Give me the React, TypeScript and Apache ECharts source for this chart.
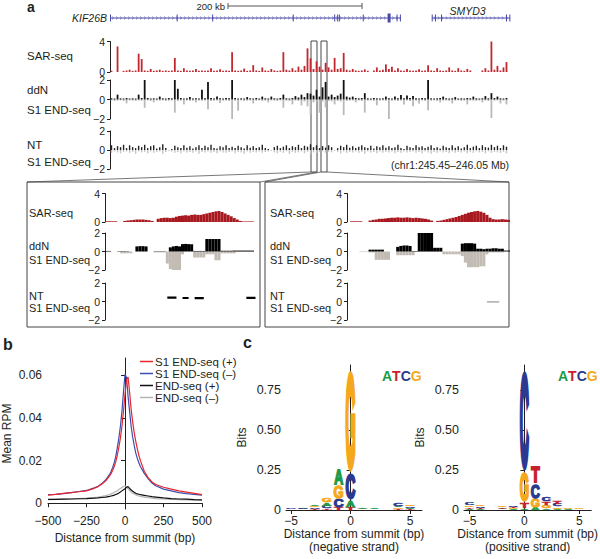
import React, { useEffect, useRef } from "react";
import * as echarts from "echarts";

const FONT = '"Liberation Sans", Arial, Helvetica, sans-serif';
const INK = "#231f20";
const RED_MAIN = "#c1272d";
const RED_DARK = "#a8191f";
const GREY_NEG = "#b9b9b9";
const GREY_NEG_INSET = "#c2bbb4";
const GENE_COLOR = "#4848aa";

// ---------- panel a: overview tracks (132 bins, chr1:245.45–246.05 Mb) ----------
const sarMain = [
  0.15, 0, 3.35, 0, 0.15, 0.2, 0.3, 0.15, 0.2, 2.4,
  1.7, 0.2, 0.15, 0.4, 0.15, 0.2, 0.3, 0.15, 0.2, 0.15,
  0.2, 1.85, 0.2, 0.15, 0.5, 0.2, 0.15, 0.2, 0.4, 0.15,
  0.2, 0.15, 0.2, 0.5, 0.15, 0.2, 0.35, 0.15, 0.2, 0.15,
  2.6, 0.2, 0.15, 0.2, 0.45, 0.15, 0.2, 0.9, 0.2, 0.15,
  0.6, 0.2, 0.15, 0.4, 0.2, 0.15, 0.2, 2.6, 0.3, 0.2,
  0.5, 0.2, 0.7, 0.3, 0.8, 3.1, 1.8, 0.4, 1.4, 0.7,
  0.3, 1.2, 0.6, 0.3, 1.85, 0.4, 0.5, 2.5, 0.3, 0.2,
  0.4, 0.2, 0.15, 0.2, 0.35, 0.15, 0, 0.2, 0.6, 0.2,
  0.3, 1.0, 0.4, 0.7, 0.2, 0.5, 0.2, 0.15, 0.4, 0.2,
  0.15, 0.2, 0.35, 0.15, 0.2, 0.9, 0.2, 0.15, 0.5, 0.2,
  0.15, 0.2, 0.6, 0.2, 0.15, 0.5, 0.2, 0.15, 0.4, 0.2,
  0, 0, 0, 0.2, 0.5, 0.2, 4.0, 0.3, 0.8, 0.2,
  0.6, 1.3,
];
const ddnPosMain = [
  0.12, 0.1, 0.5, 0.12, 0.1, 0.15, 0.1, 0.12, 0.1, 0.5,
  0.15, 2.0, 0.15, 0.1, 0.12, 0.1, 0.3, 0.12, 0.1, 0.15,
  0.12, 2.0, 1.1, 0.15, 0.1, 0.12, 0.25, 0.1, 0.12, 0.1,
  1.0, 0.12, 1.8, 0.15, 0.1, 0.3, 0.12, 0.1, 0.15, 0.12,
  2.0, 0.15, 0.1, 0.12, 0.1, 0.25, 0.12, 0.1, 0.15, 0.1,
  0.3, 0.12, 0.1, 0.3, 0.12, 0.1, 0.15, 0.5, 0.12, 0.1,
  0.15, 0.35, 0.2, 0.5, 0.25, 0.65, 0.6, 0.4, 1.0, 0.3,
  1.25, 1.8, 0.3, 0.5, 0.25, 0.4, 0.6, 2.0, 0.3, 0.2,
  0.3, 0.15, 0.12, 0.15, 0.65, 0.12, 0.1, 0.15, 0.12, 0.1,
  0.12, 0.3, 0.12, 0.1, 0.3, 0.12, 0.45, 0.12, 0.4, 0.15,
  0.35, 0.12, 0.1, 0.15, 0.12, 2.0, 0.12, 0.1, 0.12, 0.15,
  0.3, 0.12, 0.1, 0.12, 0.25, 0.1, 0.12, 0.1, 0.15, 0.12,
  0.3, 0.12, 0.1, 0.12, 0.35, 0.12, 0.65, 0.15, 0.3, 0.12,
  0.1, 0.15,
];
const ddnNegMain = [
  -0.1, -0.15, -0.12, -0.1, -0.15, -0.4, -0.1, -0.12, -0.15, -0.1,
  -0.12, -0.85, -0.1, -0.15, -0.3, -0.1, -0.12, -0.1, -0.15, -0.12,
  -0.1, -1.35, -0.15, -0.12, -0.5, -0.1, -0.15, -0.12, -0.3, -0.1,
  -0.12, -0.1, -1.0, -0.15, -0.12, -0.1, -0.35, -0.12, -0.1, -0.15,
  -2.3, -0.12, -1.15, -0.1, -0.15, -0.12, -0.1, -0.4, -0.12, -0.1,
  -0.15, -0.12, -0.3, -0.1, -0.12, -0.15, -0.1, -0.85, -0.12, -0.15,
  -0.5, -0.12, -0.15, -0.6, -0.2, -0.7, -1.5, -0.3, -0.2, -1.35,
  -0.2, -0.8, -0.15, -0.2, -0.5, -0.15, -0.2, -1.6, -0.15, -0.12,
  -0.1, -0.3, -0.12, -0.15, -1.35, -0.12, -0.1, -0.15, -0.6, -0.12,
  -0.1, -0.15, -2.3, -0.12, -0.1, -0.15, -0.12, -0.5, -0.1, -0.15,
  -0.7, -0.12, -0.4, -0.1, -0.15, -1.1, -0.12, -0.1, -0.15, -0.3,
  -0.12, -0.1, -0.15, -0.4, -0.12, -0.1, -0.15, -0.12, -0.5, -0.1,
  -0.12, -0.15, -0.1, -0.3, -0.12, -0.15, -1.9, -0.12, -0.1, -0.4,
  -0.12, -0.5,
];
const ntPosMain = [
  0.5, 0.2, 0.4, 0.3, 0.55, 0.2, 0.5, 0.3, 0.2, 0.45,
  0.3, 0.55, 0.2, 0.4, 0.5, 0.15, 0.3, 0.6, 0.2, 0,
  0.1, 0.45, 0.3, 0.2, 0.5, 0.25, 0.4, 0.15, 0.3, 0.5,
  0.2, 0.45, 0.3, 0.55, 0.2, 0.15, 0.4, 0.3, 0.5, 0.2,
  0.35, 0.2, 0.45, 0.3, 0.15, 0.5, 0.25, 0.4, 0.2, 0.3,
  0.55, 0.2, 0.1, 0, 0.3, 0.45, 0.2, 0.35, 0.5, 0.2,
  0.4, 0.3, 0.55, 0.2, 0.45, 0.35, 0.6, 0.3, 0.5, 0.2,
  0.4, 0.25, 0.5, 0.3, 0, 0.2, 0.45, 0.3, 0.55, 0.25,
  0.4, 0.2, 0.35, 0.5, 0.3, 0.2, 0.45, 0.15, 0.4, 0.3,
  0.5, 0.25, 0.4, 0.2, 0.3, 0.55, 0.2, 0.1, 0.45, 0.3,
  0.2, 0.5, 0.3, 0.4, 0.2, 0.35, 0.5, 0.2, 0.3, 0.15,
  0.45, 0.3, 0.2, 0.5, 0.25, 0.4, 0.15, 0.3, 0.55, 0.2,
  0.35, 0.45, 0.2, 0.5, 0.3, 0.25, 0.55, 0.3, 0.45, 0.2,
  0.5, 0.35,
];
const ntNegMain = [
  -0.3, -0.15, -0.25, -0.35, -0.2, -0.15, -0.3, -0.2, -0.4, -0.15,
  -0.25, -0.2, -0.35, -0.15, -0.3, -0.2, -0.15, -0.4, -0.2, -0.1,
  -0.15, -0.3, -0.2, -0.35, -0.15, -0.25, -0.2, -0.3, -0.15, -0.4,
  -0.2, -0.25, -0.15, -0.3, -0.2, -0.35, -0.15, -0.25, -0.3, -0.2,
  -0.15, -0.35, -0.2, -0.25, -0.4, -0.15, -0.3, -0.2, -0.25, -0.15,
  -0.3, -0.2, -0.15, -0.1, -0.25, -0.35, -0.2, -0.3, -0.15, -0.4,
  -0.2, -0.3, -0.25, -0.15, -0.35, -0.2, -0.45, -0.25, -0.3, -0.2,
  -0.15, -0.3, -0.2, -0.25, -0.1, -0.2, -0.35, -0.15, -0.3, -0.2,
  -0.25, -0.15, -0.3, -0.2, -0.4, -0.15, -0.25, -0.2, -0.35, -0.15,
  -0.3, -0.2, -0.25, -0.15, -0.35, -0.2, -0.3, -0.15, -0.25, -0.2,
  -0.15, -0.3, -0.2, -0.35, -0.15, -0.25, -0.4, -0.2, -0.3, -0.15,
  -0.25, -0.2, -0.35, -0.15, -0.3, -0.2, -0.25, -0.15, -0.35, -0.2,
  -0.3, -0.15, -0.25, -0.2, -0.35, -0.15, -0.3, -0.2, -0.25, -0.3,
  -0.2, -0.35,
];

// gene models (kb from left edge of the region)
const geneStarts = [0, 485];
const geneEnds = [438, 603];
const exonStarts = [0, 100.5, 154, 275.5, 338, 342.5, 345, 381, 418.5, 432, 437, 485, 490, 499, 597, 602];
const exonEnds = [0.8, 101.5, 155, 276.5, 339, 343.5, 346, 382, 423, 433, 438, 486, 491, 500, 598, 603];

// ---------- panel a: left inset (50 bins) ----------
const sarInsetL = [
  0.1, 0.1, 0.1, 0.1, 0, 0, 0.15, 0.2, 0.25, 0.3,
  0.35, 0.35, 0.35, 0.3, 0.25, 0.15, 0, 0.45, 0.55, 0.6,
  0.6, 0.55, 0.6, 0.75, 0.85, 0.9, 0.95, 0.9, 1.0, 1.05,
  1.0, 1.0, 1.1, 1.2, 1.3, 1.4, 1.5, 1.55, 1.4, 1.2,
  1.0, 0.8, 0.55, 0.35, 0.15, 0.08, 0.08, 0.08, 0.08, 0,
];
const ddnPosInsetL = [
  0.06, 0.06, 0, 0, 0.04, 0.04, 0.04, 0.04, 0, 0,
  0.55, 0.58, 0.58, 0.55, 0, 0, 0.03, 0.03, 0.03, 0.03,
  0, 0.45, 0.55, 0.6, 0.55, 0.8, 0.82, 0.8, 0.78, 0.06,
  0.06, 0.06, 0.06, 1.35, 1.35, 1.35, 1.35, 1.35, 0.08, 0.08,
  0.08, 0.08, 0.1, 0.1, 0.1, 0.1, 0.1, 0.1, 0.1, 0,
];
const ddnNegInsetL = [
  0, 0, 0, 0, 0, -0.2, -0.2, -0.2, -0.2, 0,
  0, 0, 0, 0, 0, 0, -0.1, -0.1, -0.1, -0.1,
  -1.3, -1.9, -2.2, -2.2, -2.0, -0.3, 0, 0, 0, -0.65,
  -0.65, -0.65, -0.65, -0.3, -0.3, -0.3, -0.95, -0.95, -0.2, -0.2,
  -0.2, -0.2, -0.2, -0.05, -0.05, -0.05, -0.05, -0.05, -0.05, 0,
];
const ntInsetL = [
  "-", "-", "-", "-", "-", "-", "-", "-", "-", "-",
  "-", "-", "-", "-", "-", "-", "-", "-", "-", "-",
  0.42, 0.42, 0.42, 0.42, "-", 0.38, 0.38, 0.38, "-", 0.36,
  0.36, 0.36, 0.36, "-", "-", "-", "-", "-", "-", "-",
  "-", "-", "-", "-", "-", "-", 0.4, 0.4, 0.4, 0.4,
];

// ---------- panel a: right inset (53 bins) ----------
const sarInsetR = [
  0, 0.1, 0.1, 0.1, 0.1, 0, 0, 0.2, 0.3, 0.35,
  0.45, 0.45, 0.5, 0.55, 0.6, 0.6, 0.65, 0.6, 0.6, 0.65,
  0.6, 0.55, 0.6, 0.55, 0.5, 0.45, 0.35, 0.2, 0, 0.15,
  0.2, 0.3, 0.4, 0.5, 0.6, 0.7, 0.85, 1.0, 1.15, 1.3,
  1.4, 1.5, 1.55, 1.45, 1.3, 1.0, 0.6, 0.4, 0.35, 0.35,
  0.4, 0.35, 0.3,
];
const ddnPosInsetR = [
  0, 0, 0, 0, 0, 0, 0, 0.2, 0.2, 0.2,
  0.2, 0.2, 0, 0, 0, 0, 0.5, 0.6, 0.65, 0.65,
  0.6, 0.05, 0.05, 2.0, 2.0, 2.0, 2.0, 2.0, 0.4, 0.4,
  0.4, 0, 0, 0, 0, 0, 0, 0.85, 0.9, 0.9,
  0.9, 0.85, 0.3, 0.3, 0.25, 0.3, 0.3, 0.35, 0.35, 0.3,
  0.3, 0.1, 0.1,
];
const ddnNegInsetR = [
  0, 0, 0, 0, -0.06, -0.06, -0.06, -0.1, -0.1, -0.9,
  -0.9, -0.9, -0.9, -0.9, 0, 0, -0.4, -0.4, -0.4, -0.4,
  -0.4, -0.4, -0.05, -0.05, -0.05, -0.05, -0.05, -0.05, -0.05, -0.05,
  -0.05, -0.3, -0.3, -0.3, -0.3, -0.3, -0.3, -0.5, -1.2, -1.7,
  -1.7, -1.7, -1.7, -1.6, -1.6, -0.3, -0.1, -0.1, -0.1, -0.1,
  -0.1, 0, 0,
];
const ntInsetR = [
  "-", "-", "-", "-", "-", "-", "-", "-", "-", "-",
  "-", "-", "-", "-", "-", "-", "-", "-", "-", "-",
  "-", "-", "-", "-", "-", "-", "-", "-", "-", "-",
  "-", "-", "-", "-", "-", "-", "-", "-", "-", "-",
  "-", "-", "-", "-", "-", -0.03, -0.03, -0.03, -0.03, -0.03,
  "-", "-", "-",
];

// ---------- panel b: aggregate profiles ----------
const profileX = [
  -500, -450, -400, -350, -300, -250, -200, -175, -150, -125, -100, -90, -80, -70, -60, -50, -40, -30, -20, -10,
  0, 10, 20, 30, 40, 50, 60, 70, 80, 90, 100, 125, 150, 175, 200, 250, 300, 350, 400, 450, 500,
];
const s1Plus = [
  0.0038, 0.0042, 0.0046, 0.005, 0.0054, 0.0058, 0.007, 0.0078, 0.009, 0.0105, 0.0128, 0.014, 0.0155, 0.0172, 0.0195, 0.0225, 0.0262, 0.0305, 0.036, 0.043,
  0.051, 0.058, 0.0592, 0.052, 0.044, 0.038, 0.033, 0.029, 0.0255, 0.0225, 0.02, 0.015, 0.012, 0.01, 0.0088, 0.0075, 0.0066, 0.0058, 0.0052, 0.0046, 0.004,
];
const s1Minus = [
  0.004, 0.0042, 0.0045, 0.005, 0.0055, 0.006, 0.0072, 0.008, 0.0092, 0.011, 0.0135, 0.015, 0.0168, 0.019, 0.022, 0.026, 0.0305, 0.036, 0.043, 0.052,
  0.0605, 0.059, 0.05, 0.043, 0.036, 0.031, 0.027, 0.0235, 0.021, 0.019, 0.0172, 0.014, 0.0115, 0.0095, 0.0082, 0.0066, 0.0058, 0.005, 0.0045, 0.0042, 0.0038,
];
const endPlus = [
  0.0018, 0.0018, 0.0019, 0.002, 0.0021, 0.0022, 0.0024, 0.0025, 0.0027, 0.0029, 0.0032, 0.0034, 0.0036, 0.0038, 0.0041, 0.0044, 0.0048, 0.0053, 0.0058, 0.0063,
  0.0068, 0.0075, 0.0078, 0.007, 0.0062, 0.0056, 0.0051, 0.0047, 0.0044, 0.0042, 0.004, 0.0037, 0.0034, 0.0031, 0.0029, 0.0025, 0.0022, 0.002, 0.0019, 0.0017, 0.0016,
];
const endMinus = [
  0.0017, 0.0018, 0.0019, 0.002, 0.0022, 0.0024, 0.0027, 0.0029, 0.0032, 0.0036, 0.0041, 0.0044, 0.0047, 0.0051, 0.0055, 0.0059, 0.0064, 0.0069, 0.0074, 0.0079,
  0.0081, 0.0076, 0.0068, 0.006, 0.0053, 0.0047, 0.0043, 0.0039, 0.0036, 0.0034, 0.0032, 0.0029, 0.0026, 0.0024, 0.0022, 0.002, 0.0018, 0.0017, 0.0016, 0.0015, 0.0015,
];
const profileNames = ["S1 END-seq (+)", "S1 END-seq (–)", "END-seq (+)", "END-seq (–)"];
const profileColors = ["#e8262b", "#3a4fb0", "#111111", "#b4b4b4"];

// ---------- panel c: sequence logos (positions -5..5) ----------
const logoPositions = [-5, -4, -3, -2, -1, 0, 1, 2, 3, 4, 5];
const negA = [0.003, 0.004, 0.012, 0.02, 0.104, 0.048, 0.006, 0.006, 0, 0.012, 0.008];
const negC = [0.005, 0.006, 0.008, 0.015, 0.056, 0.17, 0.002, 0.002, 0, 0.015, 0.01];
const negG = [0.002, 0.003, 0.01, 0.03, 0.083, 0.656, 0.002, 0.003, 0, 0.008, 0.013];
const negT = [0.002, 0.002, 0.007, 0.01, 0.015, 0.015, 0.004, 0.001, 0, 0.007, 0.006];
const posA = [0.008, 0.006, 0, 0.005, 0.004, 0.01, 0.015, 0.01, 0.008, 0.004, 0.002];
const posC = [0.014, 0.01, 0, 0.003, 0.01, 0.64, 0.098, 0.03, 0.015, 0.001, 0.001];
const posG = [0.012, 0.012, 0, 0.01, 0.006, 0.194, 0.056, 0.02, 0.013, 0.006, 0.006];
const posT = [0.008, 0.007, 0, 0.007, 0.008, 0.036, 0.11, 0.022, 0.02, 0.001, 0.003];
const LETTERS = ["A", "C", "G", "T"];
const LETTER_COLORS: Record<string, string> = { A: "#1f9a48", C: "#2b3990", G: "#f6a81d", T: "#c8202f" };
const LETTER_INK: Record<string, { w: number; h: number }> = {
  A: { w: 0.72, h: 0.716 },
  C: { w: 0.64, h: 0.74 },
  G: { w: 0.68, h: 0.74 },
  T: { w: 0.58, h: 0.716 },
};

function buildLogo(A: number[], C: number[], G: number[], T: number[]) {
  const out: number[][] = [];
  logoPositions.forEach((p, i) => {
    const items: [number, number][] = [
      [0, A[i]],
      [1, C[i]],
      [2, G[i]],
      [3, T[i]],
    ];
    items
      .filter((d) => d[1] > 0)
      .sort((a, b) => a[1] - b[1])
      .forEach(([li, h], k, arr) => {
        const y0 = arr.slice(0, k).reduce((s, d) => s + d[1], 0);
        out.push([p, y0, y0 + h, li]);
      });
  });
  return out;
}

const minusFmt = (v: number) => (v < 0 ? "\u2212" + Math.abs(v) : String(v));
const idx = (n: number) => Array.from({ length: n }, (_, i) => i);

function logoRender(params: any, api: any) {
  const pos = api.value(0);
  const y0 = api.value(1);
  const y1 = api.value(2);
  const letter = LETTERS[api.value(3)];
  const p0 = api.coord([pos - 0.42, y0]);
  const p1 = api.coord([pos + 0.42, y1]);
  const w = p1[0] - p0[0];
  const h = p0[1] - p1[1];
  if (h < 0.4) return null;
  const F = 100;
  const SW = 9; // stroke thickening in glyph units
  const ink = LETTER_INK[letter];
  const sx = w / (ink.w * F + SW);
  const sy = h / (ink.h * F + SW);
  const cx = (p0[0] + p1[0]) / 2;
  const cy = (p0[1] + p1[1]) / 2;
  return {
    type: "text",
    x: cx,
    y: cy + 1.15 * sy,
    scaleX: sx,
    scaleY: sy,
    style: {
      text: letter,
      x: 0,
      y: 0,
      fill: LETTER_COLORS[letter],
      stroke: LETTER_COLORS[letter],
      lineWidth: SW,
      font: `bold ${F}px ${FONT}`,
      align: "center",
      verticalAlign: "middle",
      textAlign: "center",
      textVerticalAlign: "middle",
    },
  };
}

function txt(text: string, x: number, y: number, size: number, opts: any = {}) {
  const align = opts.align || "left";
  return {
    type: "text",
    x,
    y,
    silent: true,
    style: {
      text,
      fill: opts.fill || INK,
      font: `${opts.weight || ""} ${opts.style || ""} ${size}px ${FONT}`.trim(),
      align,
      verticalAlign: "middle",
      textAlign: align,
      textVerticalAlign: "middle",
      lineHeight: opts.lineHeight,
      rich: opts.rich,
    },
  };
}

function trackYAxis(gridIndex: number, min: number, max: number, ticks: number[], fontSize: number) {
  return {
    type: "value",
    gridIndex,
    min,
    max,
    axisLine: { show: true, lineStyle: { color: INK, width: 1 } },
    axisTick: { show: true, length: 3, customValues: ticks, lineStyle: { color: INK, width: 1 } },
    axisLabel: {
      customValues: ticks,
      formatter: minusFmt,
      fontSize,
      lineHeight: 8,
      fontFamily: FONT,
      color: INK,
      margin: 5,
    },
    splitLine: { show: false },
  };
}

function catX(gridIndex: number, n: number) {
  return { type: "category", gridIndex, data: idx(n), show: false, boundaryGap: true };
}

function buildOption() {
  const grids = [
    { left: 110, top: 0, width: 400, height: 24 }, // 0 genes
    { left: 110, top: 41.5, width: 398, height: 30.5 }, // 1 SAR
    { left: 110, top: 80, width: 398, height: 39 }, // 2 ddN
    { left: 110, top: 131, width: 398, height: 38 }, // 3 NT
    { left: 105, top: 193.5, width: 152, height: 28.5 }, // 4 L SAR
    { left: 105, top: 233, width: 152, height: 37 }, // 5 L ddN
    { left: 105, top: 283, width: 152, height: 37 }, // 6 L NT
    { left: 347, top: 193.5, width: 163, height: 28.5 }, // 7 R SAR
    { left: 347, top: 233, width: 163, height: 37 }, // 8 R ddN
    { left: 347, top: 283, width: 163, height: 37 }, // 9 R NT
    { left: 48, top: 358, width: 154, height: 151 }, // 10 b
    { left: 286, top: 365, width: 136, height: 145 }, // 11 c left
    { left: 464, top: 365, width: 136, height: 145 }, // 12 c right
  ];

  const axisCommon = {
    axisLine: { show: true, lineStyle: { color: INK, width: 1 } },
    splitLine: { show: false },
  };

  const xAxes: any[] = [
    { type: "value", gridIndex: 0, min: 0, max: 603, show: false },
    catX(1, 132),
    catX(2, 132),
    catX(3, 132),
    catX(4, 50),
    catX(5, 50),
    catX(6, 50),
    catX(7, 53),
    catX(8, 53),
    catX(9, 53),
    {
      ...axisCommon,
      type: "value",
      gridIndex: 10,
      min: -500,
      max: 500,
      interval: 250,
      axisTick: { show: true, length: 4, lineStyle: { color: INK } },
      axisLabel: { formatter: minusFmt, fontSize: 12, fontFamily: FONT, color: INK, margin: 6 },
      name: "Distance from summit (bp)",
      nameLocation: "middle",
      nameGap: 23,
      nameTextStyle: { fontSize: 12, fontFamily: FONT, color: INK },
    },
    {
      ...axisCommon,
      type: "value",
      gridIndex: 11,
      min: -5.42,
      max: 6.0,
      axisTick: { show: true, length: 4, customValues: [-5, 0, 5], lineStyle: { color: INK } },
      axisLabel: { customValues: [-5, 0, 5], formatter: minusFmt, fontSize: 12, fontFamily: FONT, color: INK, margin: 5 },
      name: "Distance from summit (bp)\n(negative strand)",
      nameLocation: "middle",
      nameGap: 17,
      nameTextStyle: { fontSize: 12, lineHeight: 13, fontFamily: FONT, color: INK, verticalAlign: "top" },
    },
    {
      ...axisCommon,
      type: "value",
      gridIndex: 12,
      min: -5.5,
      max: 6.1,
      axisTick: { show: true, length: 4, customValues: [-5, 0, 5], lineStyle: { color: INK } },
      axisLabel: { customValues: [-5, 0, 5], formatter: minusFmt, fontSize: 12, fontFamily: FONT, color: INK, margin: 5 },
      name: "Distance from summit (bp)\n(positive strand)",
      nameLocation: "middle",
      nameGap: 17,
      nameTextStyle: { fontSize: 12, lineHeight: 13, fontFamily: FONT, color: INK, verticalAlign: "top" },
    },
  ];

  const bitsFmt = (v: number) => (v === 0 ? "0" : v.toFixed(2));
  const logoY = (gi: number) => ({
    ...axisCommon,
    type: "value",
    gridIndex: gi,
    min: 0,
    max: 0.906,
    axisTick: { show: true, length: 4, customValues: [0, 0.25, 0.5, 0.75], lineStyle: { color: INK } },
    axisLabel: { customValues: [0, 0.25, 0.5, 0.75], formatter: bitsFmt, fontSize: 12.5, fontFamily: FONT, color: INK, margin: 5 },
    name: "Bits",
    nameLocation: "middle",
    nameGap: 38,
    nameTextStyle: { fontSize: 12, fontFamily: FONT, color: INK },
  });

  const yAxes: any[] = [
    { type: "value", gridIndex: 0, min: 0, max: 24, inverse: true, show: false },
    trackYAxis(1, 0, 4, [0, 4], 10.5),
    trackYAxis(2, -2, 2, [-2, 0, 2], 10.5),
    trackYAxis(3, -2, 2, [-2, 0, 2], 10.5),
    trackYAxis(4, 0, 4, [0, 4], 10.5),
    trackYAxis(5, -2, 2, [-2, 0, 2], 10.5),
    trackYAxis(6, -2, 2, [-2, 0, 2], 10.5),
    trackYAxis(7, 0, 4, [0, 4], 10.5),
    trackYAxis(8, -2, 2, [-2, 0, 2], 10.5),
    trackYAxis(9, -2, 2, [-2, 0, 2], 10.5),
    {
      ...axisCommon,
      type: "value",
      gridIndex: 10,
      min: -0.0027,
      max: 0.0681,
      axisTick: { show: true, length: 4, customValues: [0, 0.02, 0.04, 0.06], lineStyle: { color: INK } },
      axisLabel: {
        customValues: [0, 0.02, 0.04, 0.06],
        formatter: (v: number) => (v === 0 ? "0" : v.toFixed(2)),
        fontSize: 12,
        fontFamily: FONT,
        color: INK,
        margin: 6,
      },
      name: "Mean RPM",
      nameLocation: "middle",
      nameGap: 35,
      nameTextStyle: { fontSize: 12, fontFamily: FONT, color: INK },
    },
    logoY(11),
    logoY(12),
  ];

  const bar = (ai: number, data: any[], color: string, opt: any) => ({
    type: "bar",
    xAxisIndex: ai,
    yAxisIndex: ai,
    data,
    itemStyle: { color },
    barGap: "-100%",
    silent: true,
    ...opt,
  });

  const geneLineData = geneStarts.map((s, i) => [s, geneEnds[i]]);
  const exonData = exonStarts.map((s, i) => [s, exonEnds[i]]);

  const series: any[] = [
    {
      type: "custom",
      xAxisIndex: 0,
      yAxisIndex: 0,
      data: geneLineData,
      silent: true,
      renderItem: (params: any, api: any) => {
        const s = api.coord([api.value(0), 18]);
        const e = api.coord([api.value(1), 18]);
        const children: any[] = [
          { type: "line", shape: { x1: s[0], y1: s[1], x2: e[0], y2: e[1] }, style: { stroke: GENE_COLOR, lineWidth: 1 } },
        ];
        for (let x = s[0] + 3; x < e[0] - 2; x += 4) {
          children.push({
            type: "polyline",
            shape: { points: [[x - 1, s[1] - 1.5], [x + 0.6, s[1]], [x - 1, s[1] + 1.5]] },
            style: { stroke: GENE_COLOR, lineWidth: 0.6, fill: "none" },
          });
        }
        return { type: "group", children };
      },
    },
    {
      type: "custom",
      xAxisIndex: 0,
      yAxisIndex: 0,
      data: exonData,
      silent: true,
      renderItem: (params: any, api: any) => {
        const s = api.coord([api.value(0), 18]);
        const e = api.coord([api.value(1), 18]);
        const w = Math.max(1, e[0] - s[0]);
        const tall = w > 2 ? 4.5 : 3.5;
        return {
          type: "rect",
          shape: { x: s[0], y: s[1] - tall, width: w, height: tall * 2 },
          style: { fill: GENE_COLOR },
        };
      },
    },
    bar(1, sarMain, RED_MAIN, { barWidth: 1.8 }),
    bar(2, ddnNegMain, GREY_NEG, { barWidth: 1.8 }),
    bar(2, ddnPosMain, "#111111", { barWidth: 1.8 }),
    bar(3, ntNegMain, "#c4c4c4", { barWidth: 1.4 }),
    bar(3, ntPosMain, "#222222", { barWidth: 1.4 }),
    bar(4, sarInsetL, RED_DARK, { barCategoryGap: "0%" }),
    bar(5, ddnNegInsetL, GREY_NEG_INSET, { barCategoryGap: "0%" }),
    bar(5, ddnPosInsetL, "#000000", { barCategoryGap: "0%" }),
    {
      type: "line",
      xAxisIndex: 6,
      yAxisIndex: 6,
      data: ntInsetL,
      symbol: "none",
      lineStyle: { color: "#000000", width: 2.2 },
      silent: true,
    },
    bar(7, sarInsetR, RED_DARK, { barCategoryGap: "0%" }),
    bar(8, ddnNegInsetR, GREY_NEG_INSET, { barCategoryGap: "0%" }),
    bar(8, ddnPosInsetR, "#000000", { barCategoryGap: "0%" }),
    {
      type: "line",
      xAxisIndex: 9,
      yAxisIndex: 9,
      data: ntInsetR,
      symbol: "none",
      lineStyle: { color: "#b8b8b8", width: 1.8 },
      silent: true,
    },
  ];

  const profiles = [s1Plus, s1Minus, endPlus, endMinus];
  [3, 2, 1, 0].forEach((k) => {
    series.push({
      type: "line",
      name: profileNames[k],
      xAxisIndex: 10,
      yAxisIndex: 10,
      data: profileX.map((x, i) => [x, profiles[k][i]]),
      symbol: "none",
      lineStyle: { color: profileColors[k], width: 1.2 },
      itemStyle: { color: profileColors[k] },
      silent: true,
    });
  });

  series.push({
    type: "custom",
    xAxisIndex: 11,
    yAxisIndex: 11,
    data: buildLogo(negA, negC, negG, negT),
    renderItem: logoRender,
    silent: true,
  });
  series.push({
    type: "custom",
    xAxisIndex: 12,
    yAxisIndex: 12,
    data: buildLogo(posA, posC, posG, posT),
    renderItem: logoRender,
    silent: true,
  });

  const atcgRich = {
    a: { fill: LETTER_COLORS.A, font: `bold 14px ${FONT}` },
    t: { fill: LETTER_COLORS.T, font: `bold 14px ${FONT}` },
    c: { fill: LETTER_COLORS.C, font: `bold 14px ${FONT}` },
    g: { fill: LETTER_COLORS.G, font: `bold 14px ${FONT}` },
  };

  const lineEl = (x1: number, y1: number, x2: number, y2: number, stroke: string, lw = 1) => ({
    type: "line",
    silent: true,
    shape: { x1, y1, x2, y2 },
    style: { stroke, lineWidth: lw },
  });
  const rectEl = (x: number, y: number, w: number, h: number, stroke: string, lw = 1) => ({
    type: "rect",
    silent: true,
    shape: { x, y, width: w, height: h },
    style: { stroke, fill: "none", lineWidth: lw },
  });

  const graphic: any[] = [
    txt("a", 27, 6.5, 14, { weight: "bold", lineHeight: 13 }),
    txt("b", 3, 344.5, 16, { weight: "bold" }),
    txt("c", 243, 342.5, 16, { weight: "bold" }),
    // scale bar
    txt("200 kb", 225, 6.5, 9.5, { align: "right" }),
    lineEl(228, 6, 362, 6, "#555555"),
    lineEl(228, 3, 228, 9, "#555555"),
    lineEl(362, 3, 362, 9, "#555555"),
    txt("KIF26B", 107, 17.5, 10.5, { align: "right", style: "italic" }),
    txt("SMYD3", 467.5, 11, 10.5, { align: "center", style: "italic" }),
    // overview track labels
    txt("SAR-seq", 27, 55.5, 11.5),
    txt("ddN", 27, 89.5, 11.5),
    txt("S1 END-seq", 27, 109.5, 11.5),
    txt("NT", 27, 145, 11.5),
    txt("S1 END-seq", 27, 162, 11.5),
    txt("(chr1:245.45–246.05 Mb)", 509, 164.5, 10.5, { align: "right" }),
    // highlighted regions and connectors
    rectEl(311, 41, 6, 131, "#333333", 0.9),
    rectEl(321, 41, 6, 131, "#333333", 0.9),
    lineEl(311, 172, 27, 182, "#555555", 0.8),
    lineEl(317, 172, 260, 182, "#555555", 0.8),
    lineEl(321, 172, 265, 182, "#555555", 0.8),
    lineEl(327, 172, 509, 182, "#555555", 0.8),
    rectEl(27, 182, 233, 145, "#444444", 1),
    rectEl(265, 182, 244, 145, "#444444", 1),
    // inset labels
    txt("SAR-seq", 29, 212.5, 11),
    txt("ddN", 29, 246, 11),
    txt("S1 END-seq", 29, 260, 11),
    txt("NT", 29, 296, 11),
    txt("S1 END-seq", 29, 307.5, 11),
    txt("SAR-seq", 270, 212.5, 11),
    txt("ddN", 270, 246, 11),
    txt("S1 END-seq", 270, 260, 11),
    txt("NT", 270, 296, 11),
    txt("S1 END-seq", 270, 307.5, 11),
    // logo keys
    txt("{a|A}{t|T}{c|C}{g|G}", 382, 375.5, 14, { rich: atcgRich }),
    txt("{a|A}{t|T}{c|C}{g|G}", 558, 375.5, 14, { rich: atcgRich }),
  ];

  return {
    animation: false,
    backgroundColor: "#ffffff",
    textStyle: { fontFamily: FONT },
    grid: grids,
    xAxis: xAxes,
    yAxis: yAxes,
    legend: {
      data: profileNames,
      orient: "vertical",
      left: 140,
      top: 355.5,
      icon: "rect",
      itemWidth: 13,
      itemHeight: 1.5,
      itemGap: 0,
      padding: 0,
      selectedMode: false,
      textStyle: { fontSize: 11.5, fontFamily: FONT, color: INK, lineHeight: 10.5, padding: [0, 0, 0, -3] },
    },
    series,
    graphic,
  };
}

export default function App() {
  const ref = useRef<HTMLDivElement>(null);
  useEffect(() => {
    const chart = echarts.init(ref.current as HTMLDivElement, null, { renderer: "svg" });
    chart.setOption(buildOption() as any);
    return () => chart.dispose();
  }, []);
  return <div ref={ref} style={{ position: "fixed", left: 0, top: 0, width: 600, height: 559 }} />;
}
